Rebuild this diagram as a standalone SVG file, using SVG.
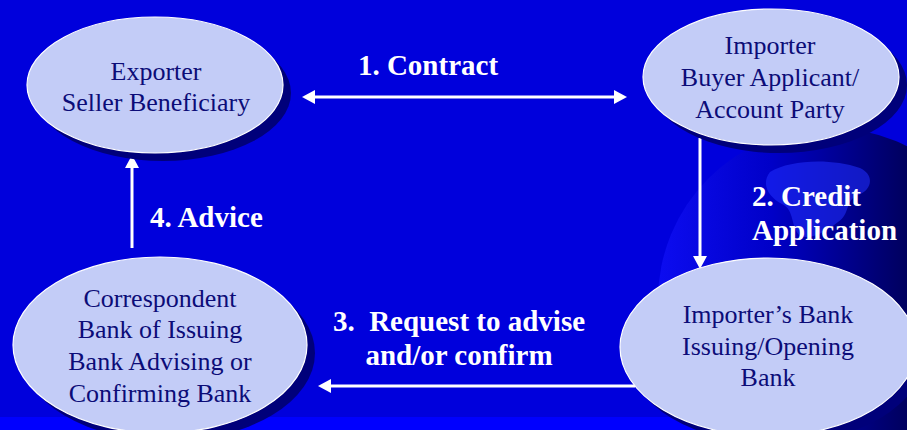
<svg xmlns="http://www.w3.org/2000/svg" width="907" height="430" viewBox="0 0 907 430">
<style>
.node-shadow{fill:#00007a}
.node-fill{fill:#c3ccf7;stroke:#ffffff;stroke-width:1.2}
.node-text{font-family:"Liberation Serif","Times New Roman",serif;font-size:26px;fill:#0c0c78;text-anchor:middle}
.label{font-family:"Liberation Serif","Times New Roman",serif;font-size:29px;font-weight:bold;fill:#ffffff}
.conn{stroke:#ffffff;stroke-width:3;fill:none}
</style>
<defs>
<marker id="ah" markerWidth="14" markerHeight="14" refX="8" refY="7" orient="auto-start-reverse" markerUnits="userSpaceOnUse">
<path d="M0,0 L13,7 L0,14 Z" fill="#ffffff"/>
</marker>
<linearGradient id="globe" x1="660" y1="0" x2="907" y2="0" gradientUnits="userSpaceOnUse">
<stop offset="0" stop-color="#0c0cf0"/>
<stop offset="0.45" stop-color="#0000c8"/>
<stop offset="1" stop-color="#00005e"/>
</linearGradient>
</defs>
<rect x="0" y="0" width="907" height="430" fill="#0000dc"/>
<rect x="0" y="417" width="907" height="13" fill="#0000ff"/>
<g id="globe-bg">
<circle cx="830" cy="300" r="172" fill="url(#globe)"/>
<path d="M770,172 C790,160 830,158 860,168 C875,175 872,190 858,195 C845,200 850,215 838,222 C825,232 812,240 800,236 C790,226 795,210 782,204 C770,198 760,185 770,172 Z" fill="#2030ff" opacity="0.55"/>
</g>
<g id="connectors">
<line class="conn" x1="307" y1="97" x2="622" y2="97" marker-start="url(#ah)" marker-end="url(#ah)"/>
<line class="conn" x1="700" y1="138" x2="700" y2="264" marker-end="url(#ah)"/>
<line class="conn" x1="635" y1="386" x2="323" y2="386" marker-end="url(#ah)"/>
<line class="conn" x1="132" y1="248" x2="132" y2="160" marker-end="url(#ah)"/>
</g>
<g id="exporter">
<ellipse class="node-shadow" cx="163" cy="93" rx="128" ry="68"/>
<ellipse class="node-fill" cx="155" cy="85" rx="128" ry="68"/>
<text class="node-text" x="156" y="80">Exporter</text>
<text class="node-text" x="156" y="111">Seller Beneficiary</text>
</g>
<g id="importer">
<ellipse class="node-shadow" cx="779" cy="85" rx="128" ry="68"/>
<ellipse class="node-fill" cx="771" cy="77" rx="128" ry="68"/>
<text class="node-text" x="770" y="54">Importer</text>
<text class="node-text" x="770" y="86">Buyer Applicant/</text>
<text class="node-text" x="770" y="118">Account Party</text>
</g>
<g id="correspondent">
<ellipse class="node-shadow" cx="168" cy="353" rx="147" ry="88"/>
<ellipse class="node-fill" cx="160" cy="345" rx="147" ry="88"/>
<text class="node-text" x="160" y="307">Correspondent</text>
<text class="node-text" x="160" y="338">Bank of Issuing</text>
<text class="node-text" x="160" y="370">Bank Advising or</text>
<text class="node-text" x="160" y="402">Confirming Bank</text>
</g>
<g id="issuing-bank">
<ellipse class="node-shadow" cx="776" cy="355" rx="148" ry="89"/>
<ellipse class="node-fill" cx="768" cy="347" rx="148" ry="89"/>
<text class="node-text" x="768" y="323">Importer’s Bank</text>
<text class="node-text" x="768" y="355">Issuing/Opening</text>
<text class="node-text" x="768" y="386">Bank</text>
</g>
<g id="labels">
<text class="label" x="428" y="75" text-anchor="middle">1. Contract</text>
<text class="label" x="752" y="206">2. Credit</text>
<text class="label" x="752" y="240">Application</text>
<text class="label" x="459" y="331" text-anchor="middle" xml:space="preserve">3.  Request to advise</text>
<text class="label" x="459" y="365" text-anchor="middle">and/or confirm</text>
<text class="label" x="150" y="227">4. Advice</text>
</g>
</svg>
